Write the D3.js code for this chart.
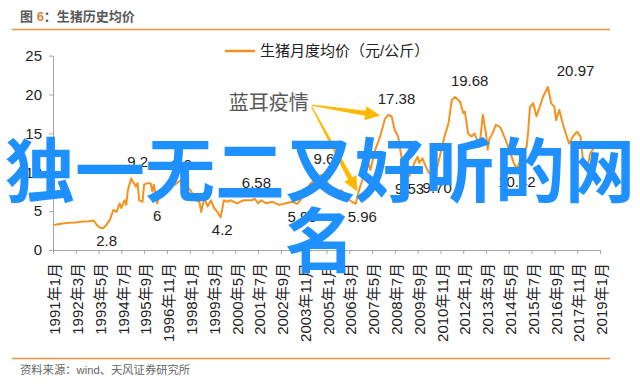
<!DOCTYPE html>
<html>
<head>
<meta charset="utf-8">
<script src="https://cdn.jsdelivr.net/npm/d3@7"></script>
<style>
body { margin: 0; background: #fff; }
text { font-family: "Liberation Sans", "Noto Sans CJK SC", sans-serif; }
</style>
</head>
<body>
<svg id="chart"></svg>
<script>
const width = 640;
const height = 386;

// monthly hog price (yuan/kg)
const dates = ["1991-01","1991-04","1991-07","1991-11","1992-03","1992-07","1992-11","1993-02","1993-04","1993-06",
  "1993-08","1993-10","1993-12","1994-02","1994-04","1994-06","1994-07","1994-09","1994-10","1994-11",
  "1995-01","1995-02","1995-04","1995-05","1995-06","1995-08","1995-09","1995-11","1996-01","1996-02",
  "1996-03","1996-05","1996-07","1996-10","1997-01","1997-04","1997-07","1997-10","1998-01","1998-04",
  "1998-05","1998-07","1998-08","1998-10","1998-12","1999-02","1999-04","1999-06","1999-08","1999-10",
  "1999-12","2000-02","2000-06","2000-10","2001-03","2001-05","2001-07","2001-09","2001-12","2002-04",
  "2002-08","2002-12","2003-04","2003-07","2003-09","2003-12","2004-03","2004-07","2004-10","2005-01",
  "2005-04","2005-07","2005-10","2006-01","2006-04","2006-07","2006-09","2006-11","2007-02","2007-04",
  "2007-07","2007-10","2008-01","2008-03","2008-05","2008-07","2008-09","2008-11","2008-12","2009-02",
  "2009-04","2009-07","2009-09","2009-10","2009-12","2010-02","2010-04","2010-08","2010-11","2011-02",
  "2011-04","2011-06","2011-08","2011-11","2012-01","2012-02","2012-04","2012-06","2012-08","2012-09",
  "2012-11","2013-01","2013-03","2013-04","2013-05","2013-07","2013-09","2013-11","2013-12","2014-03",
  "2014-06","2014-08","2014-10","2014-12","2015-02","2015-04","2015-05","2015-06","2015-08","2015-10",
  "2015-12","2016-02","2016-05","2016-07","2016-09","2016-10","2016-12","2017-02","2017-04","2017-06",
  "2017-09","2017-11","2018-01","2018-03","2018-05","2018-07","2018-11","2019-01"];
const prices = [3.2,3.3,3.4,3.5,3.55,3.65,3.7,3.8,3.2,2.85,
  2.8,3.3,3.9,5.15,4.9,6.0,5.4,6.4,5.8,7.7,
  9.2,8.8,8.15,8.6,6.4,6.2,8.4,8.6,8.6,7.5,
  8.4,6.0,7.3,8.15,8.6,8.4,8.9,8.15,7.8,6.8,
  6.4,6.2,4.9,6.65,5.6,6.4,5.4,4.9,4.2,6.4,
  6.2,6.4,6.0,6.4,6.4,6.58,6.0,6.4,6.0,6.2,
  5.8,6.0,6.2,5.93,6.4,7.5,8.5,9.3,9.67,8.8,
  8.0,7.3,7.7,6.9,6.3,5.96,7.7,9.0,11.6,10.3,
  12.9,14.6,16.9,17.38,17.2,15.4,14.6,12.0,9.9,10.7,
  9.53,11.2,12.0,11.2,11.8,10.7,9.9,9.70,12.4,15.0,
  16.3,19.3,19.68,19.1,17.6,17.8,15.0,14.6,15.0,14.4,
  13.3,17.4,15.0,12.9,14.2,15.0,16.1,15.9,15.7,14.2,
  12.5,11.2,10.42,11.5,12.6,13.3,15.4,18.4,18.9,17.2,
  18.4,19.7,20.97,18.9,18.4,16.7,18.0,16.3,15.0,13.7,
  14.8,15.2,14.6,10.7,10.3,12.4,13.7,13.5];

const tickLabels = ["1991年1月","1992年3月","1993年5月","1994年7月","1995年9月","1996年11月","1998年1月",
  "1999年3月","2000年5月","2001年7月","2002年9月","2003年11月","2005年1月","2006年3月","2007年5月",
  "2008年7月","2009年9月","2010年11月","2012年1月","2013年3月","2014年5月","2015年7月","2016年9月",
  "2017年11月","2019年1月"];
const yTicks = [0, 5, 10, 15, 20, 25];

// value labels and where they sit
const labelDates = ["1993-10","1995-05","1997-08","1996-05","1999-09","2001-06","2003-10","2005-02",
  "2006-11","2008-08","2009-04","2010-09","2012-05","2014-10","2017-10"];
const labelTexts = ["2.8","9.2","8.9","6","4.2","6.58","5.93","9.67","5.96","17.38","9.53","9.70",
  "19.68","10.42","20.97"];

const seriesName = "生猪月度均价（元/公斤）";
const noteText = "蓝耳疫情";
const noteAt = ["2000-01", 18.9];
const arrowTargets = [["2007-10", 17.3], ["2006-08", 7.5]];
const bigLines = ["独一无二又好听的网", "名"];

const orange = "#f5921e";
const parseMonth = d3.timeParse("%Y-%m");
const parseTick = d3.timeParse("%Y年%m月");

const data = dates.map((d, i) => ({ date: parseMonth(d), value: prices[i] }));
const tickDates = tickLabels.map(parseTick);

const svg = d3.select("#chart").attr("width", width).attr("height", height);

const x = d3.scaleTime().domain(d3.extent(tickDates)).range([53, 600]);
const y = d3.scaleLinear().domain([0, 25]).range([250, 55.6]);

// header
const title = svg.append("text").attr("x", 20).attr("y", 16).attr("dy", "0.35em")
  .style("font-size", "13px").style("font-weight", "bold").attr("fill", "#595959");
title.append("tspan").text("图 ");
title.append("tspan").text("6").attr("fill", "#dc8234");
title.append("tspan").text("：生猪历史均价");
svg.append("line").attr("x1", 12).attr("x2", 610).attr("y1", 29.5).attr("y2", 29.5)
  .attr("stroke", "#f0913a").attr("stroke-width", 1.5);
svg.append("line").attr("x1", 12).attr("x2", 610).attr("y1", 358.5).attr("y2", 358.5)
  .attr("stroke", "#f0913a").attr("stroke-width", 1.5);
svg.append("text").attr("x", 20).attr("y", 370).attr("dy", "0.35em")
  .style("font-size", "11.3px").attr("fill", "#666").text("资料来源：wind、天风证券研究所");

// axes
const yAxis = svg.append("g").attr("transform", "translate(53,0)")
  .call(d3.axisLeft(y).tickValues(yTicks).tickSize(4).tickSizeOuter(0).tickPadding(7));
const xAxis = svg.append("g").attr("transform", "translate(0,250)")
  .call(d3.axisBottom(x).tickValues(tickDates).tickSize(4).tickSizeOuter(0).tickFormat((d, i) => tickLabels[i]));
[yAxis, xAxis].forEach(g => {
  g.select(".domain").attr("stroke", "#a6a6a6");
  g.selectAll(".tick line").attr("stroke", "#a6a6a6");
  g.selectAll("text").attr("fill", "#222").style("font-size", "15px")
    .style("font-family", "'Liberation Sans','Noto Sans CJK SC',sans-serif");
});
xAxis.selectAll("text").attr("transform", "rotate(-90)").attr("text-anchor", "end")
  .attr("x", -13).attr("y", 0).attr("dy", "0.45em");

// line
svg.append("path").datum(data)
  .attr("d", d3.line().x(d => x(d.date)).y(d => y(d.value)))
  .attr("fill", "none").attr("stroke", orange).attr("stroke-width", 2).attr("stroke-linejoin", "round");

// value labels: above local highs, below local lows
const year = 365 * 24 * 3600 * 1000;
labelTexts.forEach((t, i) => {
  const date = parseMonth(labelDates[i]);
  const v = +t;
  const near = data.filter(p => Math.abs(p.date - date) < year);
  const peak = v > d3.mean(near, p => p.value);
  svg.append("text").attr("x", x(date)).attr("y", y(v) + (peak ? -11 : 18))
    .attr("text-anchor", "middle").style("font-size", "15px").attr("fill", "#222").text(t);
});

// legend
svg.append("line").attr("x1", 225).attr("x2", 255).attr("y1", 51).attr("y2", 51)
  .attr("stroke", orange).attr("stroke-width", 2.5);
svg.append("text").attr("x", 260).attr("y", 51).attr("dy", "0.35em")
  .style("font-size", "15px").attr("fill", "#222").text(seriesName);

// annotation with arrows
const note = svg.append("text").attr("x", x(parseMonth(noteAt[0]))).attr("y", y(noteAt[1])).attr("dy", "0.35em")
  .style("font-size", "20px").attr("fill", "#595959").text(noteText);
const noteEnd = x(parseMonth(noteAt[0])) + note.node().getComputedTextLength() + 3;

function arrowPath(sx, sy, tx, ty) {
  const len = Math.hypot(tx - sx, ty - sy);
  const ux = (tx - sx) / len, uy = (ty - sy) / len;
  const nx = -uy, ny = ux;
  const bx = tx - ux * 15, by = ty - uy * 15;
  const pts = [
    [sx + nx * 0.6, sy + ny * 0.6], [bx + nx * 2.5, by + ny * 2.5], [bx + nx * 7, by + ny * 7],
    [tx, ty], [bx - nx * 7, by - ny * 7], [bx - nx * 2.5, by - ny * 2.5], [sx - nx * 0.6, sy - ny * 0.6]
  ];
  return "M" + pts.map(p => p.join(",")).join("L") + "Z";
}
arrowTargets.forEach((a, i) => {
  svg.append("path")
    .attr("d", arrowPath(noteEnd, y(noteAt[1]) + 2 + i * 2, x(parseMonth(a[0])), y(a[1])))
    .attr("fill", "#ffb900");
});

// overlay text
bigLines.forEach((t, i) => {
  svg.append("text").attr("x", 320).attr("y", 166 + i * 70).attr("dominant-baseline", "central")
    .attr("text-anchor", "middle").style("font-family", "'Noto Sans CJK SC',sans-serif")
    .style("font-size", "70px").style("font-weight", "bold").attr("fill", "#1e90ff").text(t);
});
</script>
</body>
</html>
